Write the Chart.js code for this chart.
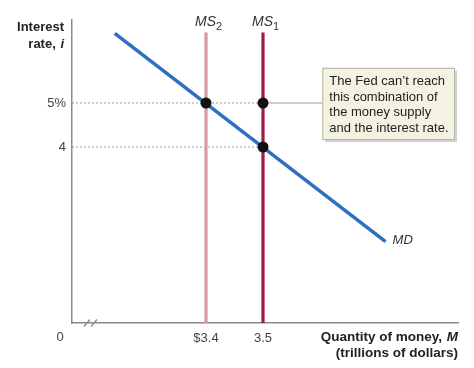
<!DOCTYPE html>
<html>
<head>
<meta charset="utf-8">
<script src="https://cdn.jsdelivr.net/npm/chart.js@4"></script>
<style>
  html, body { margin: 0; padding: 0; background: #fff; }
  #wrap { width: 474px; height: 368px; }
</style>
</head>
<body>
<div id="wrap"><canvas id="chart"></canvas></div>
<script>
// Money supply (trillions of dollars) and interest rate values
const msLabels = ['MS2', 'MS1'];
const msQuantity = [3.4, 3.5];
const msTop = 6.6;
const mdX = [3.24, 3.715];
const mdY = [6.58, 1.85];
const dotX = [3.4, 3.5, 3.5];
const dotY = [5, 5, 4];
const rateLevels = [5, 4];
const yTickValues = [4, 5];
const yTickLabels = ['4', '5%'];
const xTickValues = [3.4, 3.5];
const xTickLabels = ['$3.4', '3.5'];
const calloutText = ['The Fed can\u2019t reach', 'this combination of', 'the money supply', 'and the interest rate.'];

// Axis ranges (x axis is broken, so it does not start at zero)
const xMin = 3.165, xMax = 3.842;
const yMin = 0, yMax = 6.886;
// callout box, in data units
const callout = { x0: 3.604, x1: 3.835, yTop: 5.8, yBottom: 4.18 };

const FONT = "'Liberation Sans', Arial, Helvetica, sans-serif";
const axisGrey = '#8a8a8a';

const datasets = [];
// dotted guides from the y axis to MS1
rateLevels.forEach(r => {
    datasets.push({
        data: [{x: xMin, y: r}, {x: msQuantity[1], y: r}],
        borderColor: '#9a9a9a', borderWidth: 1, borderDash: [2, 2],
        pointRadius: 0, order: 4
    });
});
// solid connector from MS1 at 5% to the callout
datasets.push({
    data: [{x: msQuantity[1], y: rateLevels[0]}, {x: callout.x0, y: rateLevels[0]}],
    borderColor: '#a0a0a0', borderWidth: 1.2, pointRadius: 0, order: 4
});
// money supply lines
const msColors = ['#d39aa2', '#9c1c42'];
msQuantity.forEach((q, i) => {
    datasets.push({
        data: [{x: q, y: 0}, {x: q, y: msTop}],
        borderColor: msColors[i], borderWidth: 3.2, pointRadius: 0, order: 3
    });
});
// money demand
datasets.push({
    data: mdX.map((x, i) => ({x: x, y: mdY[i]})),
    borderColor: '#2f6fbf', borderWidth: 3.5, pointRadius: 0, order: 2,
    borderCapStyle: 'butt'
});
// points
datasets.push({
    data: dotX.map((x, i) => ({x: x, y: dotY[i]})),
    showLine: false, pointRadius: 5.5, pointBackgroundColor: '#111',
    pointBorderColor: '#111', pointBorderWidth: 0, order: 0
});

const decorations = {
    id: 'decorations',
    afterDatasetsDraw(chart) {
        const ctx = chart.ctx;
        const xs = chart.scales.x, ys = chart.scales.y;
        const area = chart.chartArea;
        ctx.save();

        // axis break marks
        ctx.strokeStyle = axisGrey;
        ctx.lineWidth = 1.3;
        [87, 94].forEach(px => {
            ctx.beginPath();
            ctx.moveTo(px - 3, area.bottom + 3.5);
            ctx.lineTo(px + 3, area.bottom - 3.5);
            ctx.stroke();
        });

        // origin label
        ctx.fillStyle = '#444';
        ctx.font = '13px ' + FONT;
        ctx.textAlign = 'center';
        ctx.textBaseline = 'middle';
        ctx.fillText('0', area.left - 12, area.bottom + 14);

        // axis titles
        ctx.fillStyle = '#222';
        ctx.font = 'italic bold 13.5px ' + FONT;
        const mW = ctx.measureText('M').width;
        ctx.textAlign = 'right';
        ctx.fillText('M', area.right, area.bottom + 14);
        ctx.font = 'bold 13.5px ' + FONT;
        ctx.fillText('Quantity of money, ', area.right - mW - 1, area.bottom + 14);
        ctx.fillText('(trillions of dollars)', area.right, area.bottom + 30);

        ctx.font = 'bold 13px ' + FONT;
        ctx.fillText('Interest', area.left - 8, 27);
        ctx.font = 'italic bold 13px ' + FONT;
        const iW = ctx.measureText('i').width;
        ctx.fillText('i', area.left - 8, 44);
        ctx.font = 'bold 13px ' + FONT;
        ctx.fillText('rate, ', area.left - 8 - iW - 1, 44);

        // curve labels
        ctx.fillStyle = '#333';
        ctx.textAlign = 'left';
        msQuantity.forEach((q, i) => {
            const px = xs.getPixelForValue(q);
            ctx.font = 'italic 14px ' + FONT;
            const w = ctx.measureText('MS').width;
            ctx.fillText('MS', px - 11, 22);
            ctx.font = '11px ' + FONT;
            ctx.fillText(msLabels[i].slice(2), px - 11 + w, 27);
        });
        ctx.font = 'italic 13px ' + FONT;
        ctx.fillText('MD', xs.getPixelForValue(mdX[1]) + 7, ys.getPixelForValue(mdY[1]) - 1);

        // callout box
        const bx0 = xs.getPixelForValue(callout.x0);
        const bx1 = xs.getPixelForValue(callout.x1);
        const by0 = ys.getPixelForValue(callout.yTop);
        const by1 = ys.getPixelForValue(callout.yBottom);
        ctx.fillStyle = 'rgba(0,0,0,0.18)';
        ctx.fillRect(bx0 + 3, by0 + 3, bx1 - bx0, by1 - by0);
        ctx.fillStyle = '#f4f2e1';
        ctx.fillRect(bx0, by0, bx1 - bx0, by1 - by0);
        ctx.strokeStyle = '#b2b2a4';
        ctx.lineWidth = 1;
        ctx.strokeRect(bx0 + 0.5, by0 + 0.5, bx1 - bx0, by1 - by0);
        ctx.fillStyle = '#222';
        ctx.font = '13px ' + FONT;
        calloutText.forEach((t, i) => {
            ctx.fillText(t, bx0 + 7, by0 + 14 + i * 15.5);
        });

        ctx.restore();
    }
};

new Chart(document.getElementById('chart'), {
    type: 'line',
    data: { datasets: datasets },
    options: {
        responsive: true,
        maintainAspectRatio: false,
        animation: false,
        layout: { padding: { top: 20, right: 16, left: 0, bottom: 0 } },
        plugins: { legend: { display: false }, tooltip: { enabled: false } },
        elements: { line: { tension: 0 } },
        scales: {
            x: {
                type: 'linear', min: xMin, max: xMax,
                grid: { display: false, drawTicks: false },
                border: { color: axisGrey, width: 1.5 },
                afterBuildTicks: s => { s.ticks = xTickValues.map(v => ({value: v})); },
                afterFit: s => { s.height = 45; },
                ticks: {
                    autoSkip: false, maxRotation: 0, padding: 8,
                    color: '#444', font: { family: FONT, size: 13 },
                    callback: v => xTickLabels[xTickValues.indexOf(v)]
                }
            },
            y: {
                type: 'linear', min: yMin, max: yMax,
                grid: { display: false, drawTicks: false },
                border: { color: axisGrey, width: 1.5 },
                afterBuildTicks: s => { s.ticks = yTickValues.map(v => ({value: v})); },
                afterFit: s => { s.width = 72; },
                ticks: {
                    autoSkip: false, padding: 6,
                    color: '#444', font: { family: FONT, size: 13 },
                    callback: v => yTickLabels[yTickValues.indexOf(v)]
                }
            }
        }
    },
    plugins: [decorations]
});
</script>
</body>
</html>
